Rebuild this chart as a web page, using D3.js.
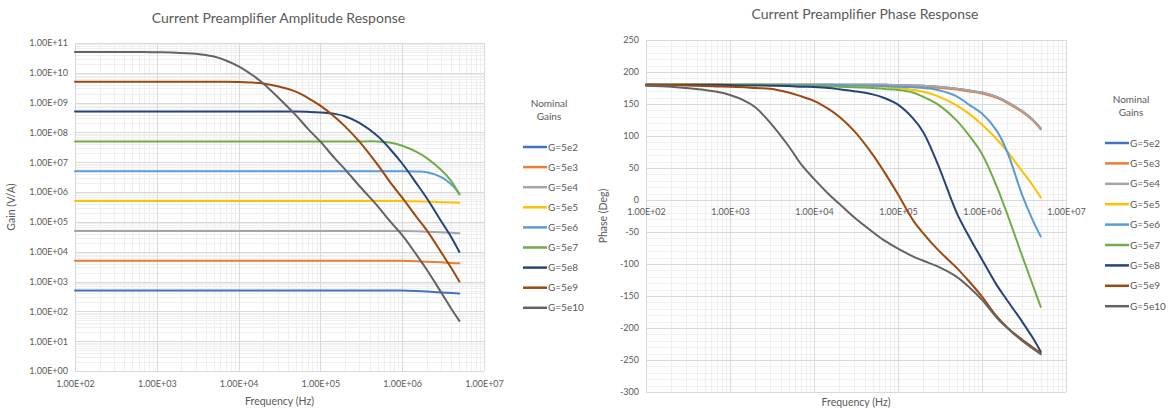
<!DOCTYPE html>
<html>
<head>
<meta charset="utf-8">
<script src="https://cdn.jsdelivr.net/npm/d3@7/dist/d3.min.js"></script>
<style>
  html, body { margin: 0; padding: 0; background: #fff; }
  svg { display: block; }
  text { font-family: Lato, "Noto Sans", sans-serif; fill: #595959; }
</style>
</head>
<body>
<svg id="chart" width="1171" height="410"></svg>
<script>
// Measurement frequencies (Hz), shared by every series
const freqHz = [1e2, 2e2, 3e2, 5e2, 7e2, 1e3, 1.5e3, 2e3, 3e3, 5e3, 7e3, 1e4, 1.5e4, 2e4, 3e4,
                5e4, 7e4, 1e5, 1.5e5, 2e5, 3e5, 5e5, 7e5, 1e6, 1.5e6, 2e6, 3e6, 4e6, 5e6];

const seriesNames = ["G=5e2", "G=5e3", "G=5e4", "G=5e5", "G=5e6", "G=5e7", "G=5e8", "G=5e9", "G=5e10"];

// Amplitude response, gain in V/A
const ampG5e2 = [5.0e2, 5.0e2, 5.0e2, 5.0e2, 5.0e2, 5.0e2, 5.0e2, 5.0e2, 5.0e2, 5.0e2, 5.0e2, 5.0e2, 5.0e2, 5.0e2, 5.0e2,
                 5.0e2, 5.0e2, 5.0e2, 5.0e2, 5.0e2, 5.0e2, 5.0e2, 5.0e2, 5.0e2, 4.8e2, 4.6e2, 4.3e2, 4.1e2, 4.0e2];
const ampG5e3 = [5.0e3, 5.0e3, 5.0e3, 5.0e3, 5.0e3, 5.0e3, 5.0e3, 5.0e3, 5.0e3, 5.0e3, 5.0e3, 5.0e3, 5.0e3, 5.0e3, 5.0e3,
                 5.0e3, 5.0e3, 5.0e3, 5.0e3, 5.0e3, 5.0e3, 5.0e3, 5.0e3, 5.0e3, 4.8e3, 4.6e3, 4.4e3, 4.2e3, 4.1e3];
const ampG5e4 = [5.0e4, 5.0e4, 5.0e4, 5.0e4, 5.0e4, 5.0e4, 5.0e4, 5.0e4, 5.0e4, 5.0e4, 5.0e4, 5.0e4, 5.0e4, 5.0e4, 5.0e4,
                 5.0e4, 5.0e4, 5.0e4, 5.0e4, 5.0e4, 5.0e4, 5.0e4, 5.0e4, 5.0e4, 4.9e4, 4.7e4, 4.5e4, 4.3e4, 4.2e4];
const ampG5e5 = [5.0e5, 5.0e5, 5.0e5, 5.0e5, 5.0e5, 5.0e5, 5.0e5, 5.0e5, 5.0e5, 5.0e5, 5.0e5, 5.0e5, 5.0e5, 5.0e5, 5.0e5,
                 5.0e5, 5.0e5, 5.0e5, 5.0e5, 5.0e5, 5.0e5, 5.0e5, 5.0e5, 5.0e5, 4.9e5, 4.8e5, 4.6e5, 4.5e5, 4.4e5];
const ampG5e6 = [5.0e6, 5.0e6, 5.0e6, 5.0e6, 5.0e6, 5.0e6, 5.0e6, 5.0e6, 5.0e6, 5.0e6, 5.0e6, 5.0e6, 5.0e6, 5.0e6, 5.0e6,
                 5.0e6, 5.0e6, 5.0e6, 5.0e6, 5.0e6, 5.0e6, 5.0e6, 5.0e6, 5.0e6, 4.9e6, 4.6e6, 3.2e6, 1.8e6, 8.9e5];
const ampG5e7 = [5.0e7, 5.0e7, 5.0e7, 5.0e7, 5.0e7, 5.0e7, 5.0e7, 5.0e7, 5.0e7, 5.0e7, 5.0e7, 5.0e7, 5.0e7, 5.0e7, 5.0e7,
                 5.0e7, 5.0e7, 5.0e7, 5.0e7, 5.0e7, 5.0e7, 5.0e7, 4.6e7, 3.6e7, 2.25e7, 1.38e7, 5.5e6, 2.3e6, 8.3e5];
const ampG5e8 = [5.0e8, 5.0e8, 5.0e8, 5.0e8, 5.0e8, 5.0e8, 5.0e8, 5.0e8, 5.0e8, 5.0e8, 5.0e8, 5.0e8, 5.0e8, 5.0e8, 5.0e8,
                 5.0e8, 4.9e8, 4.7e8, 4.2e8, 3.5e8, 2.1e8, 7.6e7, 2.9e7, 9.1e6, 1.93e6, 6.2e5, 1.05e5, 3.0e4, 9.8e3];
const ampG5e9 = [5.0e9, 5.0e9, 5.0e9, 5.0e9, 5.0e9, 5.0e9, 5.0e9, 5.0e9, 5.0e9, 5.0e9, 5.0e9, 4.9e9, 4.7e9, 4.4e9, 3.55e9,
                 2.35e9, 1.45e9, 7.9e8, 3.3e8, 1.6e8, 4.9e7, 8.3e6, 2.3e6, 6.5e5, 1.45e5, 5.2e4, 9.5e3, 2.8e3, 1.0e3];
const ampG5e10 = [5.0e10, 5.0e10, 5.0e10, 5.0e10, 5.0e10, 4.9e10, 4.8e10, 4.6e10, 4.4e10, 3.5e10, 2.6e10, 1.65e10, 8.1e9, 4.4e9, 1.55e9,
                  3.8e8, 1.35e8, 4.9e7, 1.35e7, 5.8e6, 1.6e6, 3.4e5, 1.1e5, 3.6e4, 7.8e3, 2.5e3, 4.3e2, 1.2e2, 48];

// Phase response, degrees
const phG5e2 = [180, 180, 180, 180, 180, 180, 180, 180, 180, 180, 180, 180, 180, 180, 180,
                180, 180, 179.5, 179, 178.5, 177, 174, 171, 168, 161, 153, 139, 126, 112];
const phG5e3 = [180, 180, 180, 180, 180, 180, 180, 180, 180, 180, 180, 180, 180, 180, 180,
                180, 180, 179, 178, 177, 175.5, 172.5, 169.5, 166.5, 159.5, 151.5, 137.5, 124.5, 110.5];
const phG5e4 = [180, 180, 180, 180, 180, 180, 180, 180, 180, 180, 180, 180, 180, 180, 180,
                180, 180, 179.5, 179, 178.5, 177, 174, 171, 168, 161, 153, 139, 126, 112];
const phG5e5 = [180, 180, 180, 180, 180, 180, 180, 180, 180, 180, 180, 180, 180, 179.5, 179,
                178, 177, 175, 172, 169, 162, 148, 135, 118, 95, 76, 45, 23, 4];
const phG5e6 = [180, 180, 180, 180, 180, 180, 180, 180, 180, 180, 180, 180, 180, 179.5, 179,
                178.5, 178, 177, 176, 175, 172, 162, 149, 135, 108, 75, 8, -31, -57];
const phG5e7 = [180, 180, 180, 180, 180, 180, 180, 180, 179.5, 179, 178.5, 178, 177.5, 177, 176,
                175, 173.5, 172, 168, 161, 149, 124, 101, 72, 21, -22, -87, -132, -167];
const phG5e8 = [180, 180, 180, 180, 180, 179.5, 179, 179, 178.5, 178, 177, 176.5, 175, 173, 170,
                165, 159, 149, 128, 106, 55, -20, -57, -93, -133, -157, -190, -215, -237];
const phG5e9 = [180, 179.5, 179, 178, 177.5, 177, 176, 175, 174, 168, 162, 155, 142, 130, 108,
                71, 42, 9, -31, -52, -78, -106, -127, -151, -182, -199, -218, -230, -239];
const phG5e10 = [178.5, 177, 175, 172, 169, 164, 155, 145, 121, 84, 56, 33, 9, -6, -27,
                 -50, -64, -76, -88, -95, -104, -120, -136, -156, -184, -200, -220, -232, -241];

// Axis ticks
const freqTicks = [1e2, 1e3, 1e4, 1e5, 1e6, 1e7];
const freqTickLabels = ["1.00E+02", "1.00E+03", "1.00E+04", "1.00E+05", "1.00E+06", "1.00E+07"];
const gainTicks = [1e0, 1e1, 1e2, 1e3, 1e4, 1e5, 1e6, 1e7, 1e8, 1e9, 1e10, 1e11];
const gainTickLabels = ["1.00E+00", "1.00E+01", "1.00E+02", "1.00E+03", "1.00E+04", "1.00E+05",
                        "1.00E+06", "1.00E+07", "1.00E+08", "1.00E+09", "1.00E+10", "1.00E+11"];
const phaseTicks = [-300, -250, -200, -150, -100, -50, 0, 50, 100, 150, 200, 250];

const ampSeries = [ampG5e2, ampG5e3, ampG5e4, ampG5e5, ampG5e6, ampG5e7, ampG5e8, ampG5e9, ampG5e10];
const phaseSeries = [phG5e2, phG5e3, phG5e4, phG5e5, phG5e6, phG5e7, phG5e8, phG5e9, phG5e10];

// Office palette
const palette = ["#4472C4", "#ED7D31", "#A5A5A5", "#FFC000", "#5B9BD5", "#70AD47", "#264478", "#9E480E", "#636363"];

const svg = d3.select("#chart");
const majorGrid = "#d9d9d9", minorGrid = "#efefef";

function freqLabel(v) { return freqTickLabels[freqTicks.indexOf(v)]; }

function drawPanel(g, opt) {
  const { x, y, yMinor, yMajor, yLabelFmt, series, title, titleY, yTitle, yTitleX, xLabelY, xTitleY, legendX, legendY } = opt;
  const [x0, x1] = x.range();
  const [yb, yt] = y.range();

  // minor gridlines
  const xMinor = x.ticks().filter(v => v >= 1e2 && v <= 1e7);
  g.append("g").selectAll("line").data(xMinor).join("line")
    .attr("x1", d => Math.round(x(d)) + 0.5).attr("x2", d => Math.round(x(d)) + 0.5)
    .attr("y1", yt).attr("y2", yb).attr("stroke", minorGrid).attr("stroke-width", 1);
  g.append("g").selectAll("line").data(yMinor).join("line")
    .attr("y1", d => Math.round(y(d)) + 0.5).attr("y2", d => Math.round(y(d)) + 0.5)
    .attr("x1", x0).attr("x2", x1).attr("stroke", minorGrid).attr("stroke-width", 1);

  // major gridlines
  g.append("g").selectAll("line").data(freqTicks).join("line")
    .attr("x1", d => Math.round(x(d)) + 0.5).attr("x2", d => Math.round(x(d)) + 0.5)
    .attr("y1", yt).attr("y2", yb).attr("stroke", majorGrid).attr("stroke-width", 1);
  g.append("g").selectAll("line").data(yMajor).join("line")
    .attr("y1", d => Math.round(y(d)) + 0.5).attr("y2", d => Math.round(y(d)) + 0.5)
    .attr("x1", x0).attr("x2", x1).attr("stroke", majorGrid).attr("stroke-width", 1);

  // y axis labels
  const yAxis = d3.axisLeft(y).tickValues(yMajor).tickFormat(yLabelFmt).tickSize(0).tickPadding(7);
  const ya = g.append("g").attr("transform", `translate(${x0},0)`).call(yAxis);
  ya.select(".domain").remove();
  ya.selectAll("text").style("font-family", "Lato").style("font-size", "9px").attr("fill", "#595959");

  // x axis labels
  const xAxis = d3.axisBottom(x).tickValues(freqTicks).tickFormat(freqLabel).tickSize(0).tickPadding(0);
  const xa = g.append("g").attr("transform", `translate(0,${xLabelY})`).call(xAxis);
  xa.select(".domain").remove();
  xa.selectAll("text").style("font-family", "Lato").style("font-size", "9px").attr("fill", "#595959");

  // series lines, smoothed
  const line = d3.line()
    .x((d, i) => x(freqHz[i]))
    .y(d => y(d))
    .curve(d3.curveCatmullRom.alpha(0.5));
  g.append("g").selectAll("path").data(series).join("path")
    .attr("d", d => line(d))
    .attr("fill", "none")
    .attr("stroke", (d, i) => palette[i])
    .attr("stroke-width", 2)
    .attr("stroke-linejoin", "round")
    .attr("stroke-linecap", "round");

  // titles
  g.append("text").attr("x", (x0 + x1) / 2 + opt.titleDx).attr("y", titleY)
    .attr("text-anchor", "middle").style("font-size", "14px").text(title);
  g.append("text").attr("x", (x0 + x1) / 2 + opt.xTitleDx).attr("y", xTitleY)
    .attr("text-anchor", "middle").style("font-size", "10.5px").text("Frequency (Hz)");
  g.append("text")
    .attr("transform", `translate(${yTitleX},${(yb + yt) / 2}) rotate(-90)`)
    .attr("text-anchor", "middle").style("font-size", "10.5px").text(yTitle);

  // legend
  const lg = g.append("g").attr("transform", `translate(${legendX},${legendY})`);
  lg.append("text").attr("x", 26).attr("y", 0).attr("text-anchor", "middle")
    .attr("dy", "0.35em").style("font-size", "10px").text("Nominal");
  lg.append("text").attr("x", 26).attr("y", 13).attr("text-anchor", "middle")
    .attr("dy", "0.35em").style("font-size", "10px").text("Gains");
  const items = lg.selectAll("g.item").data(seriesNames).join("g")
    .attr("class", "item")
    .attr("transform", (d, i) => `translate(0,${44 + i * opt.legendStep})`);
  items.append("line").attr("x1", 0).attr("x2", 24).attr("y1", 0).attr("y2", 0)
    .attr("stroke", (d, i) => palette[i]).attr("stroke-width", 2.5);
  items.append("text").attr("x", 25).attr("y", 0).attr("dy", "0.35em")
    .style("font-size", "10px").text(d => d);
}

// Amplitude response panel
const xAmp = d3.scaleLog().domain([1e2, 1e7]).range([75, 484]);
const yAmp = d3.scaleLog().domain([1e0, 1e11]).range([371, 43]);
const ampMinor = yAmp.ticks(200).filter(v => v >= 1 && v <= 1e11);
drawPanel(svg.append("g"), {
  x: xAmp, y: yAmp, yMinor: ampMinor, yMajor: gainTicks,
  yLabelFmt: v => gainTickLabels[gainTicks.indexOf(v)],
  series: ampSeries, title: "Current Preamplifier Amplitude Response", titleY: 23, titleDx: -1,
  yTitle: "Gain (V/A)", yTitleX: 15, xLabelY: 381, xTitleY: 405, xTitleDx: 0,
  legendX: 523, legendY: 103, legendStep: 20.1
});

// Phase response panel
const xPh = d3.scaleLog().domain([1e2, 1e7]).range([646, 1066]);
const yPh = d3.scaleLinear().domain([-300, 250]).range([392, 40]);
const phMinor = d3.range(-300, 251, 10);
drawPanel(svg.append("g"), {
  x: xPh, y: yPh, yMinor: phMinor, yMajor: phaseTicks,
  yLabelFmt: v => String(v),
  series: phaseSeries, title: "Current Preamplifier Phase Response", titleY: 19, titleDx: 9,
  yTitle: "Phase (Deg)", yTitleX: 607, xLabelY: yPh(0) + 9, xTitleY: 406, xTitleDx: 0,
  legendX: 1105, legendY: 99, legendStep: 20.4
});
</script>
</body>
</html>
